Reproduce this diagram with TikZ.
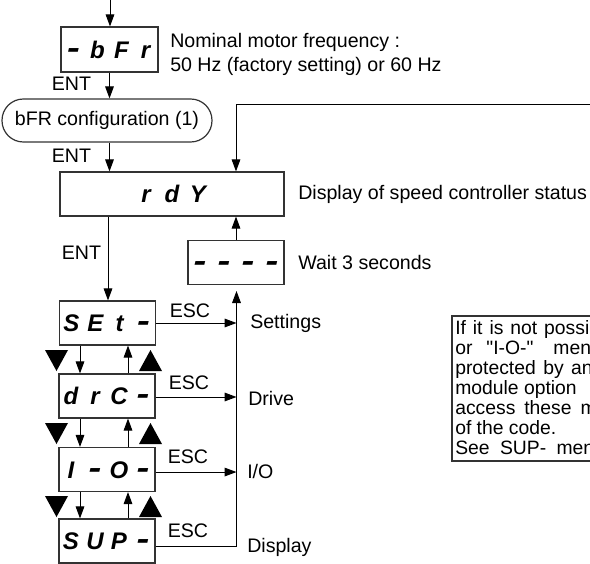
\documentclass[tikz,border=0pt]{standalone}
\usepackage{fontspec}
\usepackage{graphicx}
\setmainfont{Liberation Sans}
\newfontfamily\notefont{Liberation Sans}
\usetikzlibrary{arrows.meta}
\newcommand\segf{\fontsize{18}{18}\selectfont\bfseries\itshape}
\newcommand\dch[1]{\makebox[18pt]{#1}}
\newcommand\dcw[1]{\makebox[19.5pt]{#1}}
\newcommand\dsh{\scalebox{1.6}[1.3]{-}}
\newcommand\ws[1]{\spaceskip=#1\relax}
\begin{document}
\begin{tikzpicture}[x=0.75pt,y=-0.75pt,
  lbl/.style={font=\fontsize{14.7}{18}\selectfont, inner sep=0pt},
  note/.style={font=\notefont\fontsize{14.5}{18}\selectfont, inner sep=0pt, anchor=base west},
  dispbox/.style={draw=black!80, line width=0.9pt, inner sep=0pt, font=\segf, text height=12.9pt, text depth=0pt, minimum width=72pt, minimum height=33pt},
  arr/.style={line width=0.75pt, -{Triangle[length=9pt,width=6.5pt]}},
  tri/.style={fill=black}]
\useasboundingbox (0,0) rectangle (590,564);
\clip (0,0) rectangle (590,564);

% nodes
\node[dispbox, minimum width=72.75pt, minimum height=33.75pt] (bfr) at (109.5,49.5) {\dch{\dsh}\dch{b}\dch{F}\dch{r}};
\node[lbl, anchor=base west] (nom1) at (170,47.5) {Nominal motor frequency :};
\node[lbl, anchor=base west] (nom2) at (170,71.5) {50 Hz (factory setting) or 60 Hz};
\node[lbl, draw=black!80, line width=0.9pt, rounded corners=16pt, minimum width=157.5pt, minimum height=32.25pt] (cfg) at (107,120.5) {bFR configuration (1)};
\node[dispbox, minimum width=168pt] (rdy) at (172,194) {\dcw{r}\dcw{d}\dcw{Y}};
\node[lbl, anchor=west] (rdyt) at (298,194) {Display of speed controller status};
\node[dispbox] (wait) at (236,262.5) {\dch{\dsh}\dch{\dsh}\dch{\dsh}\dch{\dsh}};
\node[lbl, anchor=west] (waitt) at (298,262.5) {Wait 3 seconds};

\node[dispbox] (set) at (107.5,323) {\dch{S}\dch{E}\dch{t}\dch{\dsh}};
\node[dispbox] (drc) at (107,396) {\dch{d}\dch{r}\dch{C}\dch{\dsh}};
\node[dispbox] (io) at (107,469.5) {\dch{I}\dch{\dsh}\dch{O}\dch{\dsh}};
\node[dispbox] (sup) at (107,541) {\dch{S}\dch{U}\dch{P}\dch{\dsh}};

% labels
\node[lbl] (ent1) at (71.5,83.5) {ENT};
\node[lbl] (ent2) at (71.5,156) {ENT};
\node[lbl] (ent3) at (81.5,253) {ENT};
\node[lbl] (esc1) at (190,311) {ESC};
\node[lbl] (esc2) at (189,383) {ESC};
\node[lbl] (esc3) at (188,457) {ESC};
\node[lbl] (esc4) at (188,531) {ESC};
\node[lbl, anchor=west] (lset) at (250,323) {Settings};
\node[lbl, anchor=west] (ldrc) at (248,398) {Drive};
\node[lbl, anchor=west] (lio) at (247,471) {I/O};
\node[lbl, anchor=west] (lsup) at (247,547) {Display};

% coordinates
\coordinate (in) at (110,-2);
\coordinate (fbR) at (595,104);
\coordinate (fbC) at (236,104);
\coordinate (vtop) at (236.5,291);

% connectors
\draw[arr] (in) -- (in |- bfr.north);
\draw[arr] (bfr.south) -- (bfr.south |- cfg.north);
\draw[arr] (cfg.south -| bfr.south) -- (bfr.south |- rdy.north);
\draw[arr] (fbR) -- (fbC) -- (fbC |- rdy.north);
\draw[arr] (rdy.south -| 108,0) -- (108,0 |- set.north);
\draw[arr] (wait.north) -- (wait.north |- rdy.south);
\draw[arr] ([yshift=-3.75pt]sup.east) -| (vtop);
\draw[arr] (set.east) -- (set.east -| vtop);
\draw[arr] ([yshift=-0.75pt]drc.east) -- ([yshift=-0.75pt]drc.east -| vtop);
\draw[arr] ([yshift=-1.9pt]io.east) -- ([yshift=-1.9pt]io.east -| vtop);

% up/down between menus
\foreach \a/\b in {set/drc, drc/io, io/sup}{
  \draw[arr] (\a.south -| 80,0) -- (80,0 |- \b.north);
  \draw[arr] (\b.north -| 128,0) -- (128,0 |- \a.south);
}
\foreach \t in {350,423,496}{
  \fill[tri] (45,\t) -- (68,\t) -- (56.5,\t+21) -- cycle;
  \fill[tri] (139,\t+21) -- (162,\t+21) -- (150.5,\t) -- cycle;
}

% note box
\draw[draw=black!80, line width=0.9pt] (452,316) rectangle (600,461);
\node[note] (n1) at (455,334) {\ws{5.2pt}If it is not possi};
\node[note] (n2) at (455,354) {or\hspace{10.5pt}"I-O-"\hspace{15pt}men};
\node[note] (n3) at (455,374) {\ws{5.6pt}protected by an};
\node[note] (n4) at (455,394) {module option};
\node[note] (n5) at (455,414) {\ws{6.7pt}access these m};
\node[note] (n6) at (455,434) {of the code.};
\node[note] (n7) at (455,454) {\ws{7.8pt}See SUP- men};
\end{tikzpicture}
\end{document}
